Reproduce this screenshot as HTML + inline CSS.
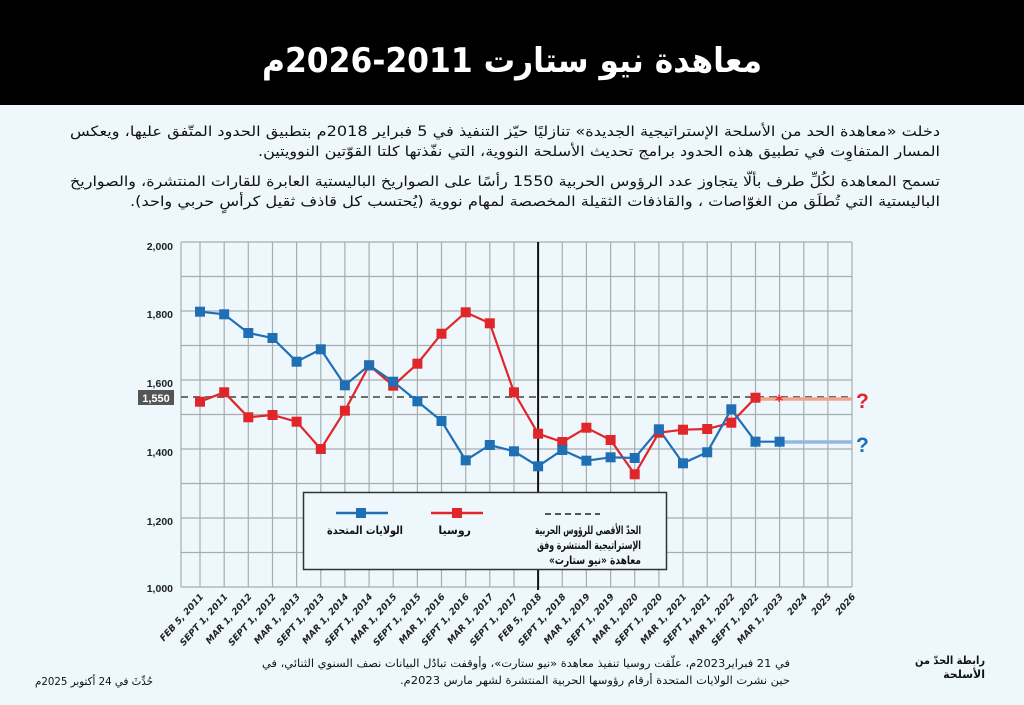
<!DOCTYPE html>
<html><head><meta charset="utf-8"><style>
html,body{margin:0;padding:0;background:#eef7fc;}
svg{display:block}
text{font-family:"DejaVu Sans","Liberation Sans",sans-serif;}
</style></head><body>
<svg width="1024" height="705" viewBox="0 0 1024 705" xmlns="http://www.w3.org/2000/svg">
<rect width="1024" height="705" fill="#eef7fc"/>
<rect width="1024" height="105" fill="#000"/>
<text x="512" y="72" text-anchor="middle" fill="#fff" font-size="34" font-weight="bold" direction="rtl" textLength="500" lengthAdjust="spacingAndGlyphs">معاهدة نيو ستارت 2011-2026م</text>

<g font-size="14" fill="#111" direction="rtl" text-anchor="start">
<text x="940" y="136" textLength="870" lengthAdjust="spacingAndGlyphs">دخلت «معاهدة الحد من الأسلحة الإستراتيجية الجديدة» تنازليًا حيّز التنفيذ في 5 فبراير 2018م بتطبيق الحدود المتّفق عليها،  ويعكس</text>
<text x="940" y="156" textLength="682" lengthAdjust="spacingAndGlyphs">المسار المتفاوِت في تطبيق هذه الحدود برامج تحديث الأسلحة النووية، التي نفّذتها كلتا القوّتين النوويتين.</text>
<text x="940" y="186" textLength="870" lengthAdjust="spacingAndGlyphs">تسمح المعاهدة لكُلِّ طرف بألّا يتجاوز عدد الرؤوس الحربية 1550 رأسًا على الصواريخ الباليستية العابرة للقارات المنتشرة، والصواريخ</text>
<text x="940" y="206" textLength="810" lengthAdjust="spacingAndGlyphs">الباليستية التي تُطلَق  من الغوّاصات ، والقاذفات الثقيلة المخصصة لمهام نووية (يُحتسب كل قاذف ثقيل كرأسٍ حربي واحد).</text>
</g>

<g stroke="#a9acae" stroke-width="1.2" fill="none">
<path d="M181 242H852M181 276.5H852M181 311H852M181 345.5H852M181 380H852M181 414.5H852M181 449H852M181 483.5H852M181 518H852M181 552.5H852M181 587H852"/>
<path d="M181 242V587M200 242V587M224.2 242V587M248.3 242V587M272.5 242V587M296.6 242V587M320.8 242V587M344.9 242V587M369.1 242V587M393.2 242V587M417.4 242V587M441.5 242V587M465.7 242V587M489.8 242V587M514 242V587M562.3 242V587M586.4 242V587M610.6 242V587M634.7 242V587M658.9 242V587M683 242V587M707.2 242V587M731.3 242V587M755.5 242V587M779.6 242V587M803.8 242V587M827.9 242V587M852 242V587"/>
</g>
<line x1="538.1" y1="242" x2="538.1" y2="590" stroke="#111" stroke-width="2"/>

<g font-size="10.5" font-weight="bold" fill="#222" text-anchor="end">
<text x="173" y="250" style="font-family:'Liberation Sans',sans-serif">2,000</text>
<text x="173" y="318" style="font-family:'Liberation Sans',sans-serif">1,800</text>
<text x="173" y="387" style="font-family:'Liberation Sans',sans-serif">1,600</text>
<text x="173" y="456" style="font-family:'Liberation Sans',sans-serif">1,400</text>
<text x="173" y="525" style="font-family:'Liberation Sans',sans-serif">1,200</text>
<text x="173" y="592" style="font-family:'Liberation Sans',sans-serif">1,000</text>
</g>
<rect x="138" y="390" width="36" height="15" fill="#555"/>
<text x="156" y="402" font-size="11" font-weight="bold" fill="#fff" text-anchor="middle" style="font-family:'Liberation Sans',sans-serif">1,550</text>

<line x1="181" y1="397" x2="852" y2="397" stroke="#6d6d6d" stroke-width="2" stroke-dasharray="7,5"/>
<line x1="756" y1="399" x2="852" y2="399" stroke="#f2a58d" stroke-width="3.5"/>
<line x1="780" y1="442" x2="852" y2="442" stroke="#94b8e0" stroke-width="3.5"/>
<text x="779" y="406" font-size="16" fill="#e0262b" text-anchor="middle" font-weight="bold">*</text>
<text x="856" y="408" font-size="21" fill="#e0262b" font-weight="bold" style="font-family:'Liberation Sans',sans-serif">?</text>
<text x="856" y="452" font-size="21" fill="#1f6fb5" font-weight="bold" style="font-family:'Liberation Sans',sans-serif">?</text>

<polyline fill="none" stroke="#e0262b" stroke-width="2.2" points="200,401.7 224.2,392.3 248.3,417.3 272.5,415 296.6,421.7 320.8,449 344.9,410.7 369.1,365.3 393.2,385.7 417.4,363.7 441.5,333.7 465.7,312.3 489.8,323.3 514,392.3 538.1,433.7 562.3,442 586.4,427.7 610.6,440 634.7,474.3 658.9,432.7 683,429.7 707.2,429 731.3,422.7 755.5,397.7"/>
<polyline fill="none" stroke="#1f6fb5" stroke-width="2.2" points="200,311.7 224.2,314.3 248.3,333 272.5,338 296.6,361.7 320.8,349.3 344.9,385.3 369.1,365.3 393.2,381.7 417.4,401.3 441.5,421 465.7,460.3 489.8,445 514,451.3 538.1,466.3 562.3,450 586.4,460.7 610.6,457.3 634.7,458 658.9,429.3 683,463.3 707.2,452.3 731.3,409.3 755.5,441.7 779.6,441.7"/>
<g fill="#e0262b">
<rect x="195" y="396.7" width="10" height="10"/><rect x="219.2" y="387.3" width="10" height="10"/><rect x="243.3" y="412.3" width="10" height="10"/><rect x="267.5" y="410" width="10" height="10"/><rect x="291.6" y="416.7" width="10" height="10"/><rect x="315.8" y="444" width="10" height="10"/><rect x="339.9" y="405.7" width="10" height="10"/><rect x="364.1" y="360.3" width="10" height="10"/><rect x="388.2" y="380.7" width="10" height="10"/><rect x="412.4" y="358.7" width="10" height="10"/><rect x="436.5" y="328.7" width="10" height="10"/><rect x="460.7" y="307.3" width="10" height="10"/><rect x="484.8" y="318.3" width="10" height="10"/><rect x="509" y="387.3" width="10" height="10"/><rect x="533.1" y="428.7" width="10" height="10"/><rect x="557.3" y="437" width="10" height="10"/><rect x="581.4" y="422.7" width="10" height="10"/><rect x="605.6" y="435" width="10" height="10"/><rect x="629.7" y="469.3" width="10" height="10"/><rect x="653.9" y="427.7" width="10" height="10"/><rect x="678" y="424.7" width="10" height="10"/><rect x="702.2" y="424" width="10" height="10"/><rect x="726.3" y="417.7" width="10" height="10"/><rect x="750.5" y="392.7" width="10" height="10"/>
</g>
<g fill="#1f6fb5">
<rect x="195" y="306.7" width="10" height="10"/><rect x="219.2" y="309.3" width="10" height="10"/><rect x="243.3" y="328" width="10" height="10"/><rect x="267.5" y="333" width="10" height="10"/><rect x="291.6" y="356.7" width="10" height="10"/><rect x="315.8" y="344.3" width="10" height="10"/><rect x="339.9" y="380.3" width="10" height="10"/><rect x="364.1" y="360.3" width="10" height="10"/><rect x="388.2" y="376.7" width="10" height="10"/><rect x="412.4" y="396.3" width="10" height="10"/><rect x="436.5" y="416" width="10" height="10"/><rect x="460.7" y="455.3" width="10" height="10"/><rect x="484.8" y="440" width="10" height="10"/><rect x="509" y="446.3" width="10" height="10"/><rect x="533.1" y="461.3" width="10" height="10"/><rect x="557.3" y="445" width="10" height="10"/><rect x="581.4" y="455.7" width="10" height="10"/><rect x="605.6" y="452.3" width="10" height="10"/><rect x="629.7" y="453" width="10" height="10"/><rect x="653.9" y="424.3" width="10" height="10"/><rect x="678" y="458.3" width="10" height="10"/><rect x="702.2" y="447.3" width="10" height="10"/><rect x="726.3" y="404.3" width="10" height="10"/><rect x="750.5" y="436.7" width="10" height="10"/><rect x="774.6" y="436.7" width="10" height="10"/>
</g>

<rect x="303.5" y="492.5" width="363" height="77" fill="#eef7fc" stroke="#333" stroke-width="1.5"/>
<line x1="336" y1="513" x2="388" y2="513" stroke="#1f6fb5" stroke-width="2.5"/>
<rect x="356" y="508" width="10" height="10" fill="#1f6fb5"/>
<line x1="431" y1="513" x2="483" y2="513" stroke="#e0262b" stroke-width="2.5"/>
<rect x="452" y="508" width="10" height="10" fill="#e0262b"/>
<line x1="545" y1="514" x2="600" y2="514" stroke="#555" stroke-width="2" stroke-dasharray="6,4"/>
<g font-size="11" font-weight="bold" fill="#111" direction="rtl">
<text x="403" y="534" textLength="76" lengthAdjust="spacingAndGlyphs">الولايات المتحدة</text>
<text x="471" y="534">روسيا</text>
<text x="641" y="534" font-size="11.5" textLength="106" lengthAdjust="spacingAndGlyphs">الحدّ الأقصى للرؤوس الحربية</text>
<text x="641" y="549" font-size="11.5" textLength="104" lengthAdjust="spacingAndGlyphs">الإستراتيجية المنتشرة وفق</text>
<text x="641" y="564" font-size="11.5" textLength="92" lengthAdjust="spacingAndGlyphs">معاهدة «نيو ستارت»</text>
</g>

<g font-size="9" font-weight="bold" font-style="italic" fill="#222" text-anchor="end" style="font-family:'Liberation Sans',sans-serif">
<text transform="translate(204,597) rotate(-48)">FEB 5, 2011</text>
<text transform="translate(228.2,597) rotate(-48)">SEPT 1, 2011</text>
<text transform="translate(252.3,597) rotate(-48)">MAR 1, 2012</text>
<text transform="translate(276.5,597) rotate(-48)">SEPT 1, 2012</text>
<text transform="translate(300.6,597) rotate(-48)">MAR 1, 2013</text>
<text transform="translate(324.8,597) rotate(-48)">SEPT 1, 2013</text>
<text transform="translate(348.9,597) rotate(-48)">MAR 1, 2014</text>
<text transform="translate(373.1,597) rotate(-48)">SEPT 1, 2014</text>
<text transform="translate(397.2,597) rotate(-48)">MAR 1, 2015</text>
<text transform="translate(421.4,597) rotate(-48)">SEPT 1, 2015</text>
<text transform="translate(445.5,597) rotate(-48)">MAR 1, 2016</text>
<text transform="translate(469.7,597) rotate(-48)">SEPT 1, 2016</text>
<text transform="translate(493.8,597) rotate(-48)">MAR 1, 2017</text>
<text transform="translate(518,597) rotate(-48)">SEPT 1, 2017</text>
<text transform="translate(542.1,597) rotate(-48)">FEB 5, 2018</text>
<text transform="translate(566.3,597) rotate(-48)">SEPT 1, 2018</text>
<text transform="translate(590.4,597) rotate(-48)">MAR 1, 2019</text>
<text transform="translate(614.6,597) rotate(-48)">SEPT 1, 2019</text>
<text transform="translate(638.7,597) rotate(-48)">MAR 1, 2020</text>
<text transform="translate(662.9,597) rotate(-48)">SEPT 1, 2020</text>
<text transform="translate(687,597) rotate(-48)">MAR 1, 2021</text>
<text transform="translate(711.2,597) rotate(-48)">SEPT 1, 2021</text>
<text transform="translate(735.3,597) rotate(-48)">MAR 1, 2022</text>
<text transform="translate(759.5,597) rotate(-48)">SEPT 1, 2022</text>
<text transform="translate(783.6,597) rotate(-48)">MAR 1, 2023</text>
<text transform="translate(807.8,597) rotate(-48)">2024</text>
<text transform="translate(831.9,597) rotate(-48)">2025</text>
<text transform="translate(856,597) rotate(-48)">2026</text>
</g>

<g font-size="11" fill="#111" direction="rtl">
<text x="790" y="667" textLength="528" lengthAdjust="spacingAndGlyphs">في 21 فبراير2023م، علّقت روسيا تنفيذ معاهدة «نيو ستارت»، وأوقفت تبادُل البيانات نصف السنوي الثنائي، في</text>
<text x="790" y="684" textLength="390" lengthAdjust="spacingAndGlyphs">حين نشرت الولايات المتحدة أرقام رؤوسها الحربية المنتشرة لشهر مارس 2023م.</text>
<text x="153" y="685" textLength="118" lengthAdjust="spacingAndGlyphs">حُدِّثَ في 24 أكتوبر 2025م</text>
</g>
<g font-size="11" font-weight="bold" fill="#111" direction="rtl">
<text x="985" y="664" textLength="70" lengthAdjust="spacingAndGlyphs">رابطة الحدّ من</text>
<text x="985" y="678">الأسلحة</text>
</g>
</svg>
</body></html>
